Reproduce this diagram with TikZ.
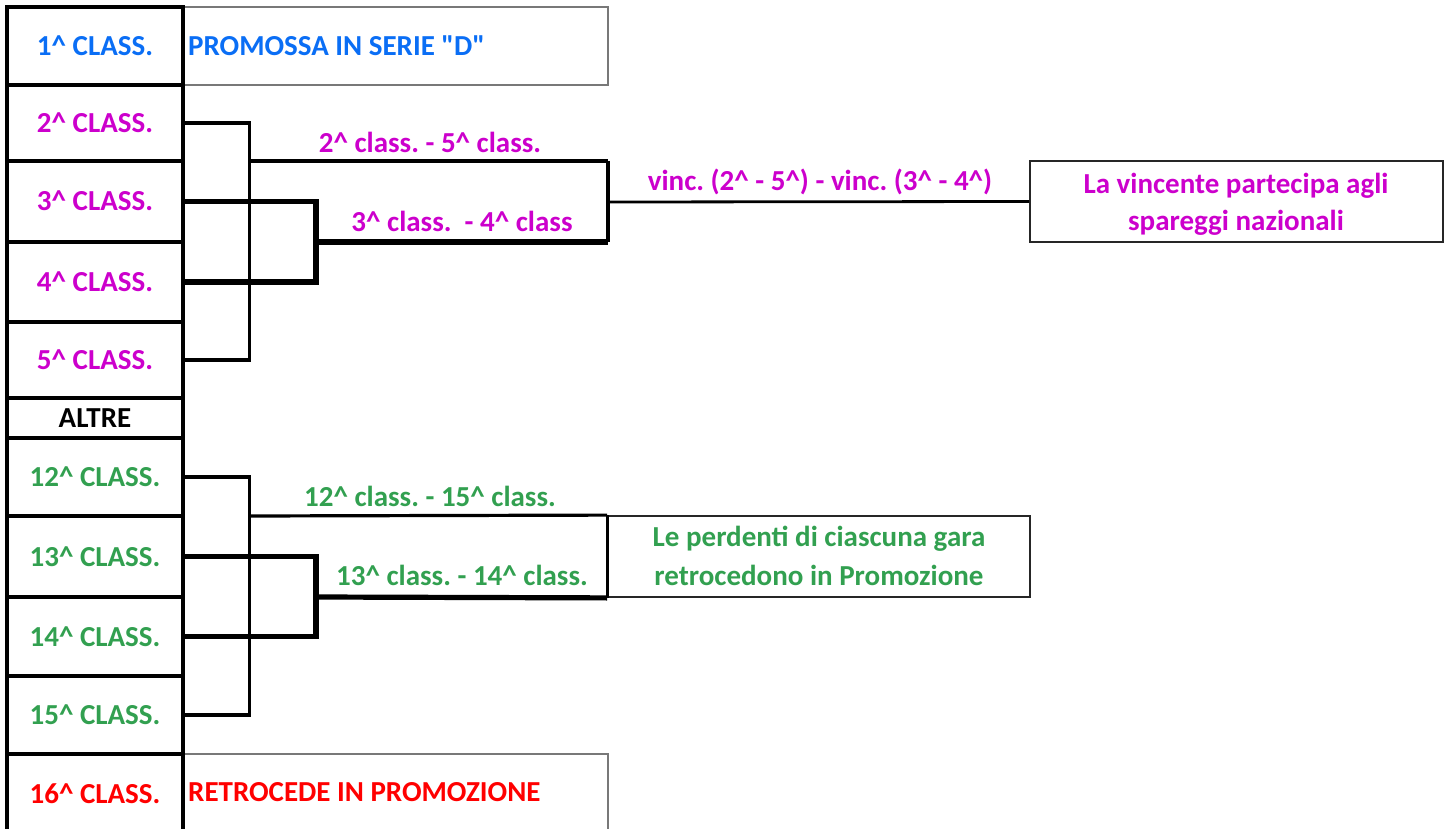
\documentclass[tikz,border=0pt]{standalone}
\usepackage{fontspec}
\setmainfont{Carlito}[Ligatures=TeXOff]
\definecolor{cblue}{RGB}{10,110,245}
\definecolor{cmag}{RGB}{204,0,204}
\definecolor{cgreen}{RGB}{50,160,80}
\definecolor{cred}{RGB}{255,0,0}
\definecolor{cgray}{RGB}{120,120,120}
\newcommand{\crt}{\textasciicircum}
\begin{document}
\begin{tikzpicture}[x=1pt,y=-1pt,
  txt/.style={font=\fontsize{29}{35}\selectfont\bfseries\frenchspacing, inner sep=0pt, text height=19pt, text depth=0pt},
  cell/.style={txt, draw, line width=3.2pt, minimum width=176pt},
  sidebox/.style={draw=cgray, line width=1.5pt, inner sep=0pt},
  outbox/.style={draw=black!85, line width=1.8pt, inner sep=0pt},
  thinln/.style={line width=3.2pt},
  thickln/.style={line width=5.2pt},
  midln/.style={line width=2.8pt}]
\useasboundingbox (0,0) rectangle (1449,829);
% right side boxes
\node[sidebox, minimum width=425pt, minimum height=78pt] (promo) at (395.5,46) {};
\node[sidebox, minimum width=425pt, minimum height=80pt] (retro) at (395.5,794) {};
\node[outbox, minimum width=413pt, minimum height=81pt] (vince) at (1236.5,201.5) {};
\node[outbox, minimum width=422pt, minimum height=81pt] (perd) at (819,556.5) {};
% left column cells
\node[cell, minimum height=78pt, text=cblue] (c1) at (95,46) {1\crt{} CLASS.};
\node[cell, minimum height=76pt, text=cmag] (c2) at (95,123) {2\crt{} CLASS.};
\node[cell, minimum height=81pt, text=cmag] (c3) at (95,201.5) {3\crt{} CLASS.};
\node[cell, minimum height=80pt, text=cmag] (c4) at (95,282) {4\crt{} CLASS.};
\node[cell, minimum height=76pt, text=cmag] (c5) at (95,360) {5\crt{} CLASS.};
\node[cell, minimum height=40pt, text=black] (altre) at (95,418) {ALTRE};
\node[cell, minimum height=78pt, text=cgreen] (c12) at (95,477) {12\crt{} CLASS.};
\node[cell, minimum height=81pt, text=cgreen] (c13) at (95,556.5) {13\crt{} CLASS.};
\node[cell, minimum height=79pt, text=cgreen] (c14) at (95,636.5) {14\crt{} CLASS.};
\node[cell, minimum height=78pt, text=cgreen] (c15) at (95,715) {15\crt{} CLASS.};
\node[cell, minimum height=80pt, text=cred] (c16) at (95,794) {16\crt{} CLASS.};
% texts in side boxes
\node[txt, anchor=west, text=cblue] (tpromo) at (188,46) {PROMOSSA IN SERIE "D"};
\node[txt, anchor=west, text=cred] (tretro) at (188,792) {RETROCEDE IN PROMOZIONE};
\node[txt, text=cmag] (tv1) at (1236,184) {La vincente partecipa agli};
\node[txt, text=cmag] (tv2) at (1236,221) {spareggi nazionali};
\node[txt, text=cgreen] (tp1) at (819,537) {Le perdenti di ciascuna gara};
\node[txt, text=cgreen] (tp2) at (819,576) {retrocedono in Promozione};
% match labels
\node[txt, text=cmag] (l25) at (430,143) {2\crt{} class. - 5\crt{} class.};
\node[txt, text=cmag] (l34) at (462,222) {3\crt{} class. \ - 4\crt{} class};
\node[txt, text=cmag] (lfin) at (820,181) {vinc. (2\crt{} - 5\crt{}) - vinc. (3\crt{} - 4\crt{})};
\node[txt, text=cgreen] (l1215) at (430,497) {12\crt{} class. - 15\crt{} class.};
\node[txt, text=cgreen] (l1314) at (462,576) {13\crt{} class. - 14\crt{} class.};
% junction coordinates (top)
\coordinate (ja) at (249.5,161);
\coordinate (jb) at (316,242);
\coordinate (ka) at (608,161);
\coordinate (kb) at (608,242);
\coordinate (km) at (608,202);
% top bracket
\draw[thinln] (c2.east) -| (ja) |- (c5.east);
\draw[thickln] (c3.east) -| (jb) |- (c4.east);
\draw[thinln] (ja) -- (ka);
\draw[thickln] (jb) -- (kb);
\draw[line width=4.5pt] (ka) -- (kb);
\draw[midln] (km) -- (vince.west);
% bottom bracket
\coordinate (jc) at (249.5,516);
\coordinate (jd) at (316,597);
\draw[thinln] (c12.east) -| (jc) |- (c15.east);
\draw[thickln] (c13.east) -| (jd) |- (c14.east);
\draw[thinln] (jc) -- (perd.north west);
\draw[thickln] (jd) -- (perd.south west);
\draw[line width=3pt] (perd.north west) -- (perd.south west);
\end{tikzpicture}
\end{document}
